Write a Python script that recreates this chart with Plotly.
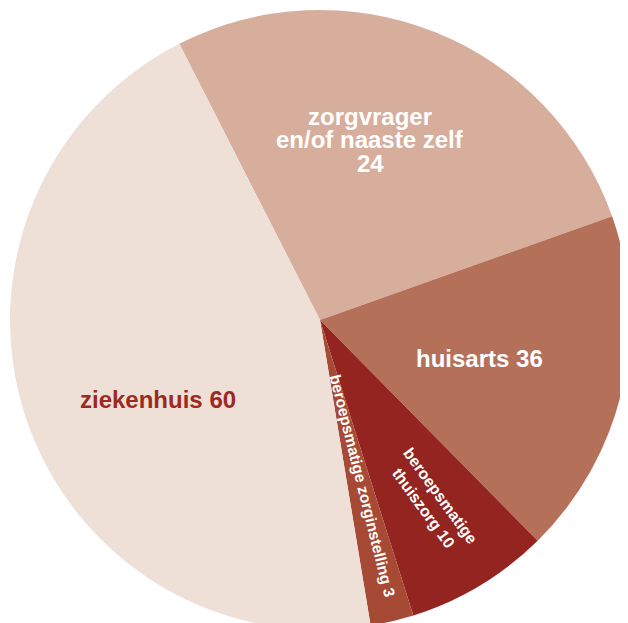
import math
import plotly.graph_objects as go

# Data
labels = ["zorgvrager en/of naaste zelf", "huisarts", "beroepsmatige thuiszorg",
          "beroepsmatige zorginstelling", "ziekenhuis"]
# slice sizes as drawn in the reference
slice_values = [36, 24, 10, 3, 60]
# numbers as printed in the reference labels
shown_numbers = [24, 36, 10, 3, 60]
label_text = [["zorgvrager", "en/of naaste zelf", "{n}"],
              ["huisarts {n}"],
              ["beroepsmatige<br>thuiszorg {n}"],
              ["beroepsmatige zorginstelling {n}"],
              ["ziekenhuis {n}"]]

# Styles
colors = ["#d7ad9b", "#b5705a", "#93241f", "#a64a36", "#eedfd7"]
text_colors = ["white", "white", "white", "white", "#9b2a22"]
font_sizes = [24, 24, 16, 15.5, 24]
text_angles = [0, 0, 54, 76, 0]
label_r_frac = [0.604, 0.530, 0.689, 0.552, 0.583]
label_ang_off = [-6.2, 0.5, -0.5, -0.8, -8.0]
line_gap = 23.5
ROT = -27

W, H = 640, 640
L, T = 2, 2
R = 310
cx, cy = 312, 312
pw, ph = W - L, H - T
dom_x = [(cx - R - L) / pw, (cx + R - L) / pw]
dom_y = [1 - (cy + R - T) / ph, 1 - (cy - R - T) / ph]

fig = go.Figure()
fig.add_trace(go.Pie(
    labels=labels, values=slice_values, sort=False, direction="clockwise",
    rotation=ROT,
    marker=dict(colors=colors, line=dict(width=0)),
    textinfo="none",
    domain=dict(x=dom_x, y=dom_y), showlegend=False, hoverinfo="skip",
))

total = sum(slice_values)
start = ROT
annotations = []
for i, v in enumerate(slice_values):
    sweep = v / total * 360
    mid = start + sweep / 2 + label_ang_off[i]
    start += sweep
    r = label_r_frac[i] * R
    px = cx + r * math.sin(math.radians(mid))
    py = cy - r * math.cos(math.radians(mid))
    xp = (px - L) / pw
    yp = 1 - (py - T) / ph
    lines = label_text[i]
    n = len(lines)
    for k, ln in enumerate(lines):
        annotations.append(dict(
            x=xp, y=yp, xref="paper", yref="paper",
            text=ln.format(n=shown_numbers[i]), showarrow=False,
            xanchor="center", yanchor="middle",
            yshift=((n - 1) / 2 - k) * line_gap,
            textangle=text_angles[i],
            font=dict(family="Liberation Sans", size=font_sizes[i],
                      color=text_colors[i], weight="bold"),
        ))

fig.update_layout(
    width=W, height=H,
    margin=dict(l=L, t=T, r=0, b=0),
    paper_bgcolor="white", plot_bgcolor="white",
    annotations=annotations,
)
fig.write_html("out.html", post_script="document.body.style.overflow='hidden';")
